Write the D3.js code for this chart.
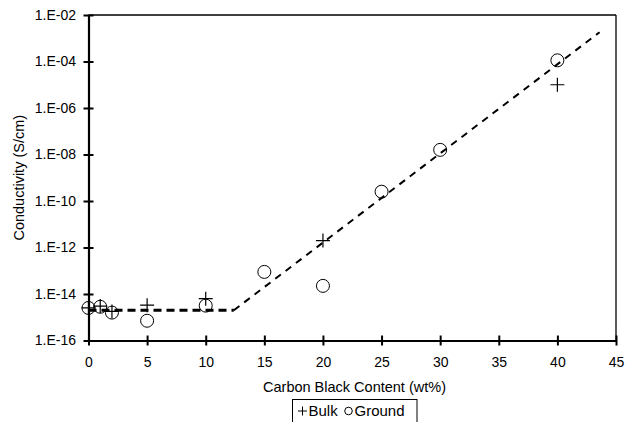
<!DOCTYPE html>
<html>
<head>
<meta charset="utf-8">
<script src="https://cdn.jsdelivr.net/npm/d3@7"></script>
<style>
  body { margin: 0; background: #fff; }
  text { font-family: "Liberation Sans", Arial, sans-serif; fill: #000; }
</style>
</head>
<body>
<svg id="chart" width="629" height="422"></svg>
<script>
// values (y is log10 of conductivity)
let bulkX = [0, 1, 2, 5, 10, 20, 40];
let bulkY = [-14.6, -14.52, -14.75, -14.48, -14.2, -11.7, -5.0];
let groundX = [0, 1, 2, 5, 10, 15, 20, 25, 30, 40];
let groundY = [-14.6, -14.55, -14.8, -15.15, -14.5, -13.05, -13.65, -9.6, -7.8, -3.95];
// trend lines
let flatX = [0, 12.4], flatY = [-14.7, -14.7];
let riseX = [12.4, 43.6], riseY = [-14.7, -2.74];
let xTicks = [0, 5, 10, 15, 20, 25, 30, 35, 40, 45];
let yTicks = [-16, -14, -12, -10, -8, -6, -4, -2];

let pLeft = 88.5, pRight = 616, pTop = 15, pBottom = 340.5;
let fs = 14;

let svg = d3.select("#chart");

let x = d3.scaleLinear().domain([0, 45]).range([pLeft, pRight]);
let y = d3.scaleLinear().domain([-16, -2]).range([pBottom, pTop]);

// frame: thin top/right
svg.append("line").attr("x1", pLeft).attr("x2", pRight).attr("y1", pTop).attr("y2", pTop)
  .attr("stroke", "#000").attr("stroke-width", 1.3);
svg.append("line").attr("x1", pRight).attr("x2", pRight).attr("y1", pTop).attr("y2", pBottom)
  .attr("stroke", "#000").attr("stroke-width", 1.3);

// axes, ticks crossing the line
let xAxis = d3.axisBottom(x).tickValues(xTicks).tickSizeInner(5).tickSizeOuter(0).tickPadding(11.5);
let gx = svg.append("g").attr("transform", "translate(0," + pBottom + ")").call(xAxis);
gx.selectAll(".tick line").attr("y1", -5).attr("stroke-width", 2);
gx.select(".domain").attr("stroke-width", 2.2);
gx.selectAll("text").attr("font-size", fs).attr("font-family", "Liberation Sans, Arial, sans-serif");

let yAxis = d3.axisLeft(y).tickValues(yTicks).tickSizeInner(5).tickSizeOuter(0).tickPadding(7.5)
  .tickFormat(d => "1.E-" + String(-d).padStart(2, "0"));
let gy = svg.append("g").attr("transform", "translate(" + pLeft + ",0)").call(yAxis);
gy.selectAll(".tick line").attr("x1", 5).attr("stroke-width", 2);
gy.select(".domain").attr("stroke-width", 2.2);
gy.selectAll("text").attr("font-size", fs).attr("font-family", "Liberation Sans, Arial, sans-serif");

// dashed trend lines
let line = d3.line().x(d => x(d[0])).y(d => y(d[1]));
svg.append("path").datum(d3.zip(flatX, flatY)).attr("d", line)
  .attr("fill", "none").attr("stroke", "#000").attr("stroke-width", 3).attr("stroke-dasharray", "8,5");
svg.append("path").datum(d3.zip(riseX, riseY)).attr("d", line)
  .attr("fill", "none").attr("stroke", "#000").attr("stroke-width", 2).attr("stroke-dasharray", "7,6");

// ground: open circles
svg.selectAll("circle.ground").data(d3.zip(groundX, groundY)).enter()
  .append("circle").attr("class", "ground")
  .attr("cx", d => x(d[0])).attr("cy", d => y(d[1])).attr("r", 6.5)
  .attr("fill", "none").attr("stroke", "#000").attr("stroke-width", 1);

// bulk: plus marks
svg.selectAll("path.bulk").data(d3.zip(bulkX, bulkY)).enter()
  .append("path").attr("class", "bulk")
  .attr("transform", d => "translate(" + x(d[0]) + "," + y(d[1]) + ")")
  .attr("d", "M-7,0H7M0,-7V7")
  .attr("stroke", "#000").attr("stroke-width", 1.2).attr("fill", "none");

// axis titles
svg.append("text").attr("x", 354.5).attr("y", 392)
  .attr("text-anchor", "middle").attr("font-size", 14.5).text("Carbon Black Content (wt%)");
svg.append("text").attr("transform", "translate(24," + ((pTop + pBottom) / 2) + ") rotate(-90)")
  .attr("text-anchor", "middle").attr("font-size", 14.5).text("Conductivity (S/cm)");

// legend
let lg = svg.append("g").attr("transform", "translate(292.5,399.5)");
lg.append("rect").attr("width", 124.5).attr("height", 26).attr("fill", "#fff")
  .attr("stroke", "#000").attr("stroke-width", 1);
lg.append("path").attr("d", "M5.5,11.5H14.5M10,7V16").attr("stroke", "#000").attr("stroke-width", 1);
lg.append("text").attr("x", 16).attr("y", 16.5).attr("font-size", 15).text("Bulk");
lg.append("circle").attr("cx", 56).attr("cy", 11.5).attr("r", 3.8)
  .attr("fill", "none").attr("stroke", "#000").attr("stroke-width", 1);
lg.append("text").attr("x", 62).attr("y", 16.5).attr("font-size", 15).text("Ground");
</script>
</body>
</html>
